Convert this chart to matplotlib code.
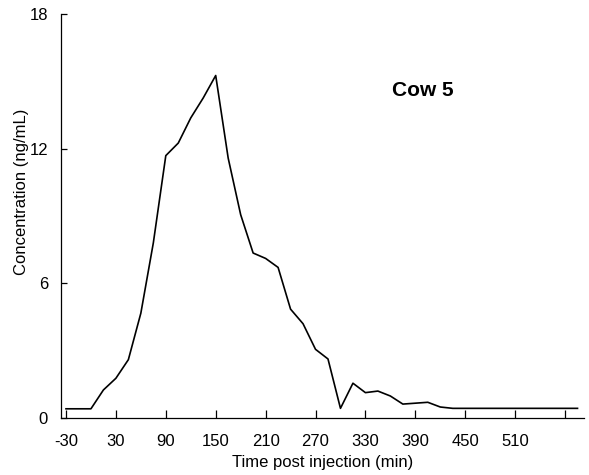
import matplotlib
matplotlib.use("Agg")
import matplotlib.pyplot as plt

plt.rcParams['font.family'] = ['Liberation Sans', 'DejaVu Sans']

times = [-30, -15, 0, 15, 30, 45, 60, 75, 90, 105, 120, 135, 150, 165, 180, 195,
         210, 225, 240, 255, 270, 285, 300, 315, 330, 345, 360, 375, 390, 405,
         420, 435, 450, 465, 480, 495, 510, 525, 540, 555, 570, 585]
conc = [0.41, 0.41, 0.41, 1.25, 1.77, 2.6, 4.67, 7.8, 11.69, 12.25, 13.37, 14.26,
        15.26, 11.58, 9.06, 7.35, 7.11, 6.71, 4.85, 4.2, 3.06, 2.63, 0.43, 1.55,
        1.13, 1.2, 0.98, 0.62, 0.66, 0.70, 0.49, 0.43, 0.43, 0.43, 0.43, 0.43,
        0.43, 0.43, 0.43, 0.43, 0.43, 0.43]

xticks = [-30, 30, 90, 150, 210, 270, 330, 390, 450, 510, 570]
xticklabels = ['-30', '30', '90', '150', '210', '270', '330', '390', '450', '510', '']
yticks = [0, 6, 12, 18]
yticklabels = ['0', '6', '12', '18']

fig = plt.figure(figsize=(5.89, 4.75), dpi=100)
ax = fig.add_axes([60.5 / 589, 57 / 475, (584 - 60.5) / 589, (418 - 14) / 475])
ax.plot(times, conc, color='black', linewidth=1.2)

ax.set_xlim(-36.6, 592.8)
ax.set_ylim(0, 18)
ax.set_xticks(xticks)
ax.set_xticklabels(xticklabels)
ax.set_yticks(yticks)
ax.set_yticklabels(yticklabels)

for s in ['top', 'right']:
    ax.spines[s].set_visible(False)
for s in ['left', 'bottom']:
    ax.spines[s].set_linewidth(0.9)

ax.tick_params(axis='x', direction='in', length=6, width=0.9, pad=11.5, labelsize=12)
ax.tick_params(axis='y', direction='in', length=4.5, width=0.9, pad=9, labelsize=12)

ax.set_xlabel('Time post injection (min)', fontsize=12, labelpad=4)
ax.set_ylabel('Concentration (ng/mL)', fontsize=12)
ax.yaxis.set_label_coords(-0.061, 0.56)

ax.text(399.6, 14.6, 'Cow 5', fontsize=15, fontweight='bold', ha='center', va='center')

fig.savefig('out.png', dpi=100)
